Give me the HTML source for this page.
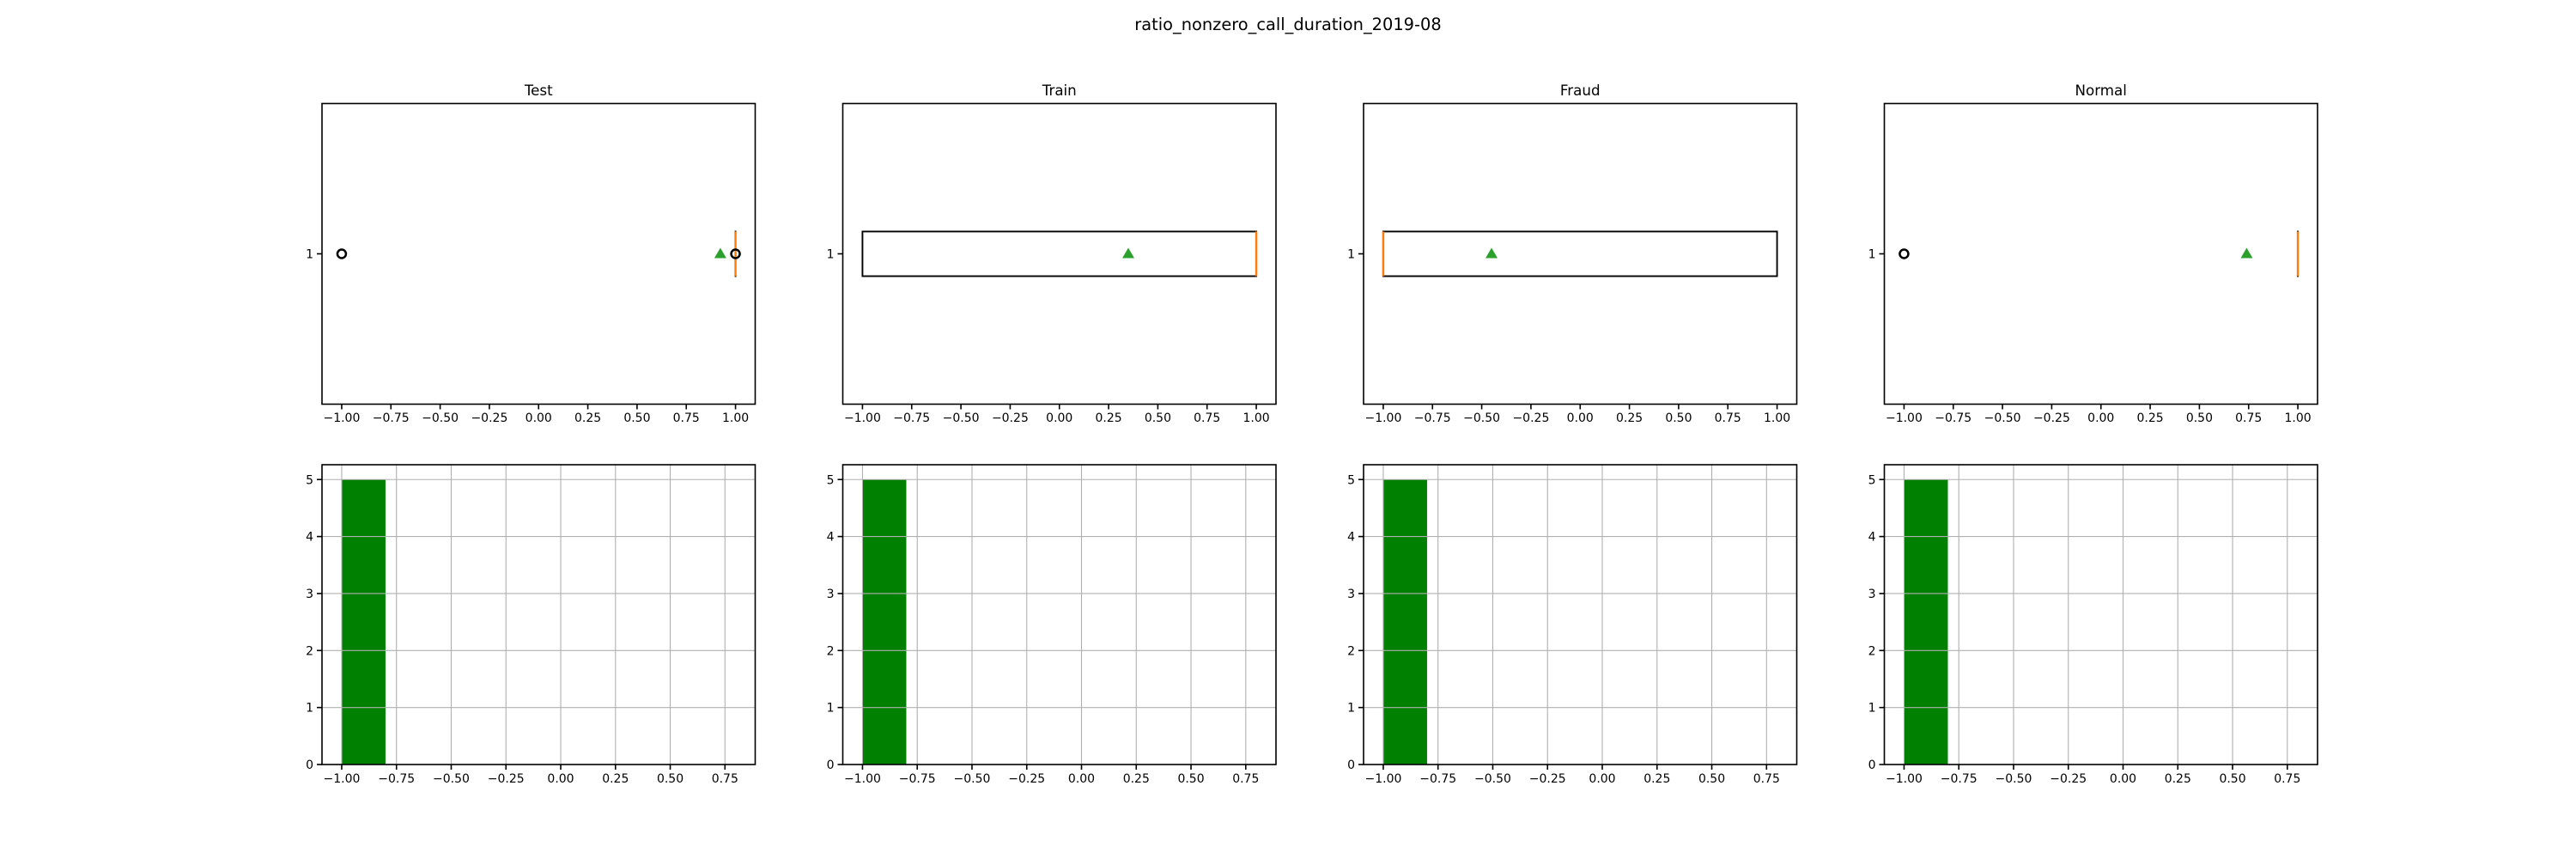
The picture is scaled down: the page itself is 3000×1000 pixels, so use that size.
<!DOCTYPE html>
<html><head><meta charset="utf-8">
<style>
html,body{margin:0;padding:0;background:#fff;}
svg{display:block;font-family:"DejaVu Sans","Liberation Sans",sans-serif;}
</style></head>
<body>
<svg id="fig" width="3000" height="1000" viewBox="0 0 3000 1000" xmlns="http://www.w3.org/2000/svg">
<rect width="3000" height="1000" fill="#fff"/>
<text x="1500" y="35" font-size="19.4" text-anchor="middle" fill="#000">ratio_nonzero_call_duration_2019-08</text>
</svg>
<script>
const panelNames = ["Test","Train","Fraud","Normal"];
const boxQ1 = [1, -1, -1, 1];
const boxQ3 = [1, 1, 1, 1];
const boxMedian = [1, 1, -1, 1];
const whiskLo = [1, -1, -1, 1];
const whiskHi = [1, 1, 1, 1];
const boxMean = [0.923, 0.35, -0.45, 0.74];
const outliers = [[-1, 1], [], [], [-1]];
const boxTicks = [-1.0,-0.75,-0.5,-0.25,0,0.25,0.5,0.75,1.0];
const boxTickLabels = ["\u22121.00","\u22120.75","\u22120.50","\u22120.25","0.00","0.25","0.50","0.75","1.00"];
const histEdges = [[-1,-0.8],[-1,-0.8],[-1,-0.8],[-1,-0.8]];
const histCounts = [[5],[5],[5],[5]];
const histXTicks = [-1.0,-0.75,-0.5,-0.25,0,0.25,0.5,0.75];
const histXTickLabels = ["\u22121.00","\u22120.75","\u22120.50","\u22120.25","0.00","0.25","0.50","0.75"];
const histYTicks = [0,1,2,3,4,5];

const svg = document.getElementById('fig');
const NS = "http://www.w3.org/2000/svg";
function mk(tag, attrs, parent){
  const e = document.createElementNS(NS, tag);
  for (const k in attrs) e.setAttribute(k, attrs[k]);
  (parent||svg).appendChild(e);
  return e;
}
const lefts = [375, 981.5, 1588, 2194.5];
const W = 504.5;
const topY0 = 120.5, topY1 = 470.5;
const botY0 = 541, botY1 = 890;
const bxMin=-1.1, bxMax=1.1;
const hxMin=-1.09, hxMax=0.888, hyMin=0, hyMax=5.26;

for (let p=0;p<4;p++){
  const L = lefts[p];
  const bx = v => L + (v-bxMin)/(bxMax-bxMin)*W;
  const yc = (topY0+topY1)/2;
  const g = mk('g',{});
  
  
  const t = mk('text',{x:L+W/2,y:111,'font-size':16.7,'text-anchor':'middle'},g);
  
  
  t.textContent = panelNames[p];
  const hh = 26;
  const x1 = bx(boxQ1[p]), x3 = bx(boxQ3[p]);
  const box = mk('rect',{x:x1,y:yc-hh,width:Math.max(x3-x1,0.01),height:2*hh,fill:'none',stroke:'#000','stroke-width':1.9},g);
  
  
  const wl = mk('line',{x1:bx(whiskLo[p]),x2:x1,y1:yc,y2:yc,stroke:'#000','stroke-width':1.9},g);
  
  
  const wh = mk('line',{x1:x3,x2:bx(whiskHi[p]),y1:yc,y2:yc,stroke:'#000','stroke-width':1.9},g);
  
  
  const md = mk('line',{x1:bx(boxMedian[p]),x2:bx(boxMedian[p]),y1:yc-hh,y2:yc+hh,stroke:'#ff7f0e','stroke-width':2.5},g);
  
  
  outliers[p].forEach(v=>{
    const c = mk('circle',{cx:bx(v),cy:yc,r:5,fill:'none',stroke:'#000','stroke-width':2.5},g);
    
    
  });
  const mx = bx(boxMean[p]);
  const tri = mk('polygon',{points:`${mx},${yc-7} ${mx-7},${yc+5} ${mx+7},${yc+5}`,fill:'#2ca02c'},g);
  
  
  const fr = mk('rect',{x:L,y:topY0,width:W,height:topY1-topY0,fill:'none',stroke:'#000','stroke-width':1.6},g);
  
  
  boxTicks.forEach((v,i)=>{
    const x = bx(v);
    mk('line',{x1:x,x2:x,y1:topY1,y2:topY1+6,stroke:'#000','stroke-width':1.6},g);
    const tl = mk('text',{x:x,y:491,'font-size':14,'text-anchor':'middle'},g);
    
    
    tl.textContent = boxTickLabels[i];
  });
  mk('line',{x1:L-6,x2:L,y1:yc,y2:yc,stroke:'#000','stroke-width':1.6},g);
  const yl = mk('text',{x:L-10,y:yc+5,'font-size':14,'text-anchor':'end'},g);
  
  
  yl.textContent = '1';

  const hx = v => L + (v-hxMin)/(hxMax-hxMin)*W;
  const hy = v => botY1 - (v-hyMin)/(hyMax-hyMin)*(botY1-botY0);
  const h = mk('g',{});
  
  
  histCounts[p].forEach((c,i)=>{
    const a = hx(histEdges[p][i]), b = hx(histEdges[p][i+1]);
    const r = mk('rect',{x:a,y:hy(c),width:b-a,height:hy(0)-hy(c),fill:'#008000'},h);
    
    
  });
  histXTicks.forEach((v,i)=>{
    const x = hx(v);
    const gl = mk('line',{x1:x,x2:x,y1:botY0,y2:botY1,stroke:'#b0b0b0','stroke-width':1.1},h);
    
    
    mk('line',{x1:x,x2:x,y1:botY1,y2:botY1+6,stroke:'#000','stroke-width':1.6},h);
    const tl = mk('text',{x:x,y:911,'font-size':14,'text-anchor':'middle'},h);
    
    
    tl.textContent = histXTickLabels[i];
  });
  histYTicks.forEach(v=>{
    const y = hy(v);
    const gl = mk('line',{x1:L,x2:L+W,y1:y,y2:y,stroke:'#b0b0b0','stroke-width':1.1},h);
    
    
    mk('line',{x1:L-6,x2:L,y1:y,y2:y,stroke:'#000','stroke-width':1.6},h);
    const tl = mk('text',{x:L-10,y:y+5,'font-size':14,'text-anchor':'end'},h);
    
    
    tl.textContent = String(v);
  });
  const hf = mk('rect',{x:L,y:botY0,width:W,height:botY1-botY0,fill:'none',stroke:'#000','stroke-width':1.6},h);
  
  
}
</script>
</body></html>
